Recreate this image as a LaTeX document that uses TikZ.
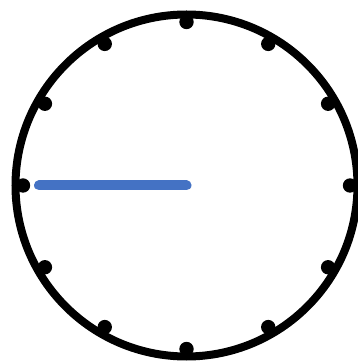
\documentclass[tikz,border=0pt]{standalone}
\usetikzlibrary{calc}
\definecolor{handblue}{HTML}{4472C4}
\tikzset{
  rim/.style={draw=black, line width=8pt},
  tick/.style={fill=black},
  hand/.style={draw=handblue, line width=10pt, line cap=round}
}
\begin{document}
\begin{tikzpicture}[x=1pt,y=1pt]
\useasboundingbox (0,0) rectangle (358,361);
\clip (0,0) rectangle (358,361);
\coordinate (c) at (186.5,175.5);
\draw[rim] (c) circle (171);
\foreach \a in {0,30,...,330}{
  \fill[tick] ($(c)+(\a:163.5)$) circle (7.2);
}
\coordinate (tip) at (39,175.5);
\draw[hand] (c) -- (tip);
\end{tikzpicture}
\end{document}
